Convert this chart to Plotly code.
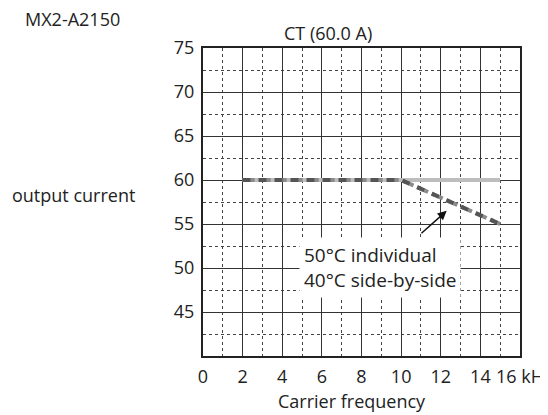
import plotly.graph_objects as go

# Data
freq_ambient = [2, 15]
current_ambient = [60, 60]
freq_derate = [2, 10, 15]
current_derate = [60, 60, 55]
x_tick_vals = [0, 2, 4, 6, 8, 10, 12, 14, 16]
x_tick_text = ["0", "2", "4", "6", "8", "10", "12", "14", "16 kH"]
y_tick_vals = [45, 50, 55, 60, 65, 70, 75]

FONT = "Open Sans"
OFF = 8  # page body margin
W, H = 540, 407
L, T = 195, 40
R = W - (520 - OFF)
B = H - (356 - OFF)
PW, PH = W - L - R, H - T - B

def px(x):  # page pixel -> paper
    return (x - OFF - L) / PW

def py(y):
    return (H - B - (y - OFF)) / PH

fig = go.Figure()
fig.add_trace(go.Scatter(x=freq_ambient, y=current_ambient, mode="lines",
                         line=dict(color="#bdbdbd", width=4), showlegend=False, hoverinfo="skip"))
fig.add_trace(go.Scatter(x=freq_derate, y=current_derate, mode="lines",
                         line=dict(color="#8a8a8a", width=4, dash="4px,4px"), showlegend=False, hoverinfo="skip"))
fig.add_trace(go.Scatter(x=freq_derate, y=current_derate, mode="lines",
                         line=dict(color="#555555", width=4, dash="8px,8px"), showlegend=False, hoverinfo="skip"))

axis_common = dict(showline=True, linecolor="#222222", linewidth=2, mirror=True,
                   gridcolor="#333333", gridwidth=1, zeroline=False, ticks="",
                   tickfont=dict(family=FONT, size=18, color="#222222"))

fig.update_xaxes(range=[0, 16], tickvals=x_tick_vals, ticktext=x_tick_text, ticklabelstandoff=3,
                 minor=dict(dtick=1, tick0=0, showgrid=True, gridcolor="#444444", griddash="dot", gridwidth=1),
                 **axis_common)
fig.update_yaxes(range=[40, 75], tickvals=y_tick_vals, ticklabelstandoff=3,
                 minor=dict(dtick=2.5, tick0=40, showgrid=True, gridcolor="#444444", griddash="dot", gridwidth=1),
                 **axis_common)

annots = [
    dict(x=px(72), y=py(19), text="MX2-A2150"),
    dict(x=px(328), y=py(33), text="CT (60.0 A)"),
    dict(x=px(73), y=py(195), text="output current"),
    dict(x=px(352), y=py(401), text="Carrier frequency"),
]
for a in annots:
    fig.add_annotation(x=a["x"], y=a["y"], xref="paper", yref="paper", text=a["text"],
                       showarrow=False, xanchor="center", yanchor="middle",
                       font=dict(family=FONT, size=18, color="#222222"))

# arrow
fig.add_annotation(x=12.3, y=56.5, ax=10.95, ay=53.8, xref="x", yref="y", axref="x", ayref="y",
                   text="", showarrow=True, arrowhead=2, arrowsize=1.2, arrowwidth=1.5, arrowcolor="#111111")
# label box
fig.add_annotation(x=8.95, y=50.1, xref="x", yref="y", showarrow=False,
                   text="50°C individual<br>40°C side-by-side", align="left",
                   bgcolor="white", borderpad=4,
                   font=dict(family=FONT, size=19, color="#222222"))

fig.update_layout(width=W, height=H, margin=dict(l=L, r=R, t=T, b=B, autoexpand=False),
                  plot_bgcolor="white", paper_bgcolor="white")
fig.write_html("out.html")
